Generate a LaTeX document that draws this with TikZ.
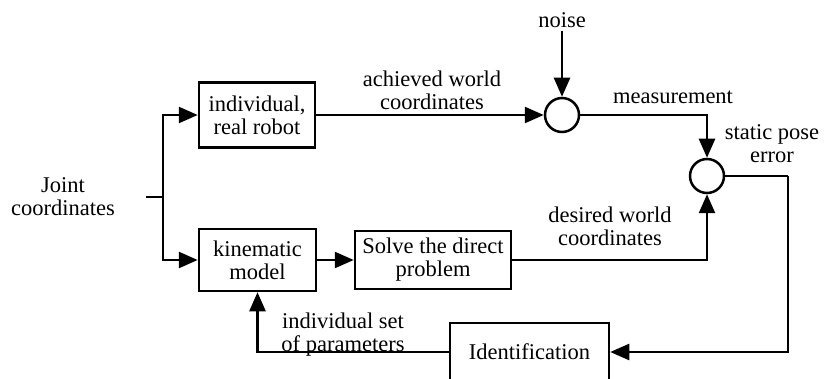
\documentclass[tikz,border=0pt]{standalone}
\usepackage{fontspec}
\setmainfont{Liberation Serif}
\usetikzlibrary{positioning,arrows.meta}

\begin{document}
\begin{tikzpicture}[
        x=1pt,y=-1pt,
        line width=2.5pt,
        font=\fontsize{22.5}{23}\selectfont,
        block/.style={
          draw,
          rectangle,
          align=center,
          inner sep=2pt
        },
        sumpt/.style={
          draw,
          circle,
          minimum size=34pt,
          inner sep=0pt
        },
        txt/.style={
          align=center,
          inner sep=0pt
        },
        arr/.style={
          -{Triangle[length=19pt,width=16pt]}
        }
        ]
        \useasboundingbox (0,0) rectangle (832,379);

        % blocks
        \node[block,minimum width=116pt,minimum height=65pt] at (257,115)
          (robot) {individual,\\ real robot};
        \node[block,minimum width=117pt,minimum height=62pt] at (257.5,260)
          (kin) {kinematic\\ model};
        \node[block,minimum width=156pt,minimum height=58pt] at (433,260)
          (solve) {Solve the direct\\ problem};
        \node[block,minimum width=159pt,minimum height=58pt] at (529.5,352)
          (ident) {Identification};

        % summing points
        \node[sumpt] at (562,115) (sum1) {};
        \node[sumpt] at (707,176) (sum2) {};

        % labels
        \node[txt] at (63,197) (joint) {Joint\\ coordinates};
        \node[txt] at (562,20) (noise) {noise};
        \node[txt] at (432,90) (achieved) {achieved world\\ coordinates};
        \node[txt] at (673,97) (meas) {measurement};
        \node[txt] at (772,144) (err) {static pose\\ error};
        \node[txt] at (610,226) (desired) {desired world\\ coordinates};
        \node[txt] at (343,335) (params) {individual set\\ of parameters};

        \coordinate (stub) at (146,197);
        \coordinate (split) at (163,197);
        \coordinate (back) at (788,176);

        % connectors
        \draw (stub) -- (split);
        \draw[arr] (split) |- (robot.west);
        \draw[arr] (split) |- (kin.west);
        \draw[arr] (robot.east) -- (sum1.west);
        \draw[arr] ([yshift=-2pt]noise.south) -- (sum1.north);
        \draw[arr] (sum1.east) -| (sum2.north);
        \draw[arr] (kin.east) -- (solve.west);
        \draw[arr] (solve.east) -| (sum2.south);
        \draw (sum2.east) -- (back);
        \draw[arr] (back) |- (ident.east);
        \draw[arr] (ident.west) -| (kin.south);
    \end{tikzpicture}
\end{document}
